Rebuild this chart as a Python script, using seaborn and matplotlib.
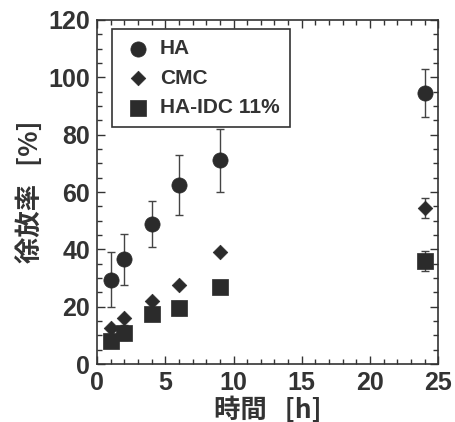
import numpy as np
import matplotlib
matplotlib.use("Agg")
import matplotlib.pyplot as plt
import seaborn as sns
import pandas as pd
from matplotlib.ticker import MultipleLocator

# データ
hours = [1, 2, 4, 6, 9, 24]
ha = [29.5, 36.5, 49, 62.5, 71, 94.5]
ha_err = [9.5, 9, 8, 10.5, 11, 8.5]
cmc = [12.5, 16, 22, 27.5, 39, 54.5]
cmc_err = [0, 0, 0, 0, 0, 3.5]
idc = [8, 11, 17.5, 19.5, 27, 36]
idc_err = [0, 2.5, 0, 2.5, 1, 3.5]

series_names = ["HA", "CMC", "HA-IDC 11%"]

sns.set_style("ticks")
plt.rcParams['font.family'] = ['Liberation Sans', 'Noto Sans CJK JP', 'DejaVu Sans']
plt.rcParams['font.weight'] = 'bold'

df = pd.DataFrame({
    "hours": hours * 3,
    "rate": ha + cmc + idc,
    "err": ha_err + cmc_err + idc_err,
    "series": [series_names[0]] * 6 + [series_names[1]] * 6 + [series_names[2]] * 6,
})

fig = plt.figure(figsize=(4.56, 4.22), dpi=100)
ax = fig.add_axes([0.213, 0.137, 0.748, 0.816])

col = "#2b2b2b"
markers = {"HA": "o", "CMC": "D", "HA-IDC 11%": "s"}
sizes = {"HA": 120, "CMC": 55, "HA-IDC 11%": 130}

for name in series_names:
    sub = df[df["series"] == name]
    ax.errorbar(sub["hours"], sub["rate"], yerr=sub["err"], fmt="none",
                ecolor="#444444", elinewidth=1, capsize=3, capthick=1, zorder=1)
    sns.scatterplot(data=sub, x="hours", y="rate", marker=markers[name],
                    s=sizes[name], color=col, edgecolor=col, linewidth=0.5,
                    label=name, ax=ax, zorder=2)

ax.set_xlim(0, 25)
ax.set_ylim(0, 120)
ax.xaxis.set_major_locator(MultipleLocator(5))
ax.xaxis.set_minor_locator(MultipleLocator(1))
ax.yaxis.set_major_locator(MultipleLocator(20))
ax.yaxis.set_minor_locator(MultipleLocator(5))
ax.tick_params(which="both", direction="in", top=True, right=True, color="#333333")
ax.tick_params(which="major", length=6, width=1, labelsize=18, pad=5)
ax.tick_params(which="minor", length=3.5, width=1)
for lab in ax.get_xticklabels() + ax.get_yticklabels():
    lab.set_fontweight("bold")
    lab.set_color("#333333")
for sp in ax.spines.values():
    sp.set_linewidth(1.2)
    sp.set_color("#333333")

ax.set_xlabel("時間   [h]", fontsize=19, fontweight="bold", color="#333333",
              family=['Noto Sans CJK JP', 'DejaVu Sans'], labelpad=1)
ax.set_ylabel("徐放率   [%]", fontsize=19, fontweight="bold", color="#333333",
              family=['Noto Sans CJK JP', 'DejaVu Sans'], labelpad=3)

leg = ax.legend(loc="upper left", bbox_to_anchor=(0.044, 0.974), borderaxespad=0,
                frameon=True, fancybox=False, edgecolor="#333333", framealpha=1,
                prop={"family": "Liberation Sans", "weight": "bold", "size": 15},
                handletextpad=0.3, borderpad=0.5, labelspacing=0.5,
                handlelength=1.5)
leg.get_frame().set_linewidth(1.2)
for t in leg.get_texts():
    t.set_color("#333333")

fig.savefig("out.png", dpi=100, facecolor="white")
